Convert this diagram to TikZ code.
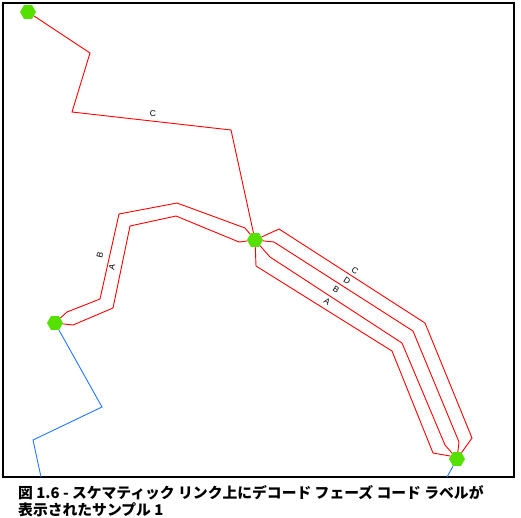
\documentclass[tikz,border=0pt]{standalone}
\usepackage{fontspec}
\newfontfamily\jpfont{Noto Sans CJK JP}
\newfontfamily\lblfont{Liberation Sans}
\usetikzlibrary{shapes.geometric}
\definecolor{hexgreen}{RGB}{85,224,0}
\definecolor{feedblue}{RGB}{30,120,255}

\begin{document}
\begin{tikzpicture}[x=1pt,y=1pt]
\tikzstyle{every node}+=[inner sep=0pt]
\tikzstyle{junction}=[regular polygon, regular polygon sides=6, minimum size=16pt, fill=hexgreen]
\tikzstyle{link}=[red, line width=0.9pt]
\tikzstyle{feeder}=[feedblue, line width=0.9pt]
\tikzstyle{phase}=[font=\lblfont\fontsize{8.5}{8.5}\selectfont]
\tikzstyle{caption}=[anchor=west, font=\jpfont\bfseries\fontsize{14.8}{14.8}\selectfont]

\useasboundingbox (0,0) rectangle (521,-517);
\draw [black, line width=1.5pt] (3,-3) rectangle (514,-477);

\node [junction] (n1) at (28,-12) {};
\node [junction] (n2) at (255,-240) {};
\node [junction] (n3) at (55,-323) {};
\node [junction] (n4) at (457,-459) {};
\coordinate (outW) at (41,-477);
\coordinate (outS) at (447,-477);

% upper link
\draw [link] (n1) -- (90,-53) -- (72,-112) -- (231,-130) -- (n2);
\draw (153,-114) node [phase] (lblCtop) {C};

% left bundle
\draw [link] (n3) -- (67,-312) -- (100,-299) -- (119,-214) -- (177,-203) -- (245,-228) -- (n2);
\draw [link] (n3) -- (73,-325) -- (113,-308) -- (130,-226) -- (176,-216) -- (239,-242) -- (n2);
\draw (100,-255) node [phase, rotate=77] (lblBleft) {B};
\draw (112,-267) node [phase, rotate=77] (lblAleft) {A};

% right bundle
\draw [link] (n2) -- (279,-229) -- (425,-323) -- (472,-438) -- (n4);
\draw [link] (n2) -- (274,-242) -- (413,-331) -- (459,-442) -- (n4);
\draw [link] (n2) -- (270,-257) -- (402,-343) -- (445,-445) -- (n4);
\draw [link] (n2) -- (256,-266) -- (392,-351) -- (433,-453) -- (450,-456) -- (n4);
\draw (355,-271) node [phase, rotate=-33] (lblCright) {C};
\draw (347,-281) node [phase, rotate=-33] (lblDright) {D};
\draw (336,-290) node [phase, rotate=-33] (lblBright) {B};
\draw (327,-302) node [phase, rotate=-33] (lblAright) {A};

% feeders
\draw [feeder] (n3) -- (102,-407) -- (33,-440) -- (outW);
\draw [feeder] (n4) -- (outS);

\node [caption] (cap1) at (18,-493) {図 1.6 - スケマティック リンク上にデコード フェーズ コード ラベルが};
\node [caption] (cap2) at (18,-510) {表示されたサンプル 1};
\end{tikzpicture}
\end{document}
